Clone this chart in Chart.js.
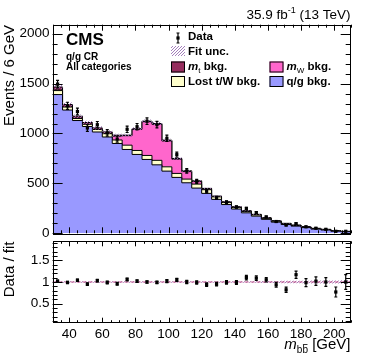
<!DOCTYPE html>
<html>
<head>
<meta charset="utf-8">
<script src="https://cdn.jsdelivr.net/npm/chart.js@4.4.0/dist/chart.umd.min.js"></script>
<style>
  body { margin: 0; background: #fff; width: 374px; height: 359px; overflow: hidden; position: relative; }
  canvas { position: absolute; left: 0; }
  #main { top: 0; }
  #ratio { top: 226px; }
</style>
</head>
<body>
<canvas id="main" width="374" height="250"></canvas>
<canvas id="ratio" width="374" height="133"></canvas>
<script>
// m_bb bins, 6 GeV wide
const binEdges = [30, 36, 42, 48, 54, 60, 66, 72, 78, 84, 90, 96, 102, 108, 114, 120,
  126, 132, 138, 144, 150, 156, 162, 168, 174, 180, 186, 192, 198, 204, 210];

// stacked backgrounds (events / bin), bottom to top
const qgBkg  = [1390, 1235, 1130, 1070, 1015, 965, 900, 840, 790, 740, 686, 623, 560, 506, 453,
  400, 340, 288, 243, 205, 172, 140, 112, 88, 72, 57, 42, 33, 21, 16];
const lostTW = [40, 30, 20, 22, 25, 33, 35, 43, 40, 40, 45, 43, 40, 37, 40,
  37, 25, 20, 16, 14, 12, 10, 9, 8, 6, 5, 4, 3, 2, 2];
const mWBkg  = [6, 0, 3, 0, 0, 3, 38, 95, 212, 338, 361, 259, 143, 75, 25,
  8, 2, 2, 2, 2, 1, 1, 1, 1, 1, 1, 1, 1, 1, 0];
const mtBkg  = [30, 25, 20, 18, 16, 15, 10, 5, 5, 5, 8, 8, 7, 8, 8,
  5, 6, 6, 5, 5, 5, 5, 4, 3, 4, 3, 3, 3, 2, 2];

const dataCounts = [1495, 1277, 1220, 1055, 1088, 1006, 944, 1042, 1068, 1123, 1089, 952, 788, 626, 521,
  423, 354, 313, 263, 249, 207, 164, 118, 82, 97, 65, 51, 40, 20, 20];
const dataErr = [38, 36, 34, 33, 32, 32, 31, 32, 32, 33, 33, 31, 26, 23, 20,
  18, 15, 13, 11, 12, 10, 8, 7, 6, 7, 6, 5, 4, 3, 3.4];
// relative fit uncertainty
const fitUnc = [0.015, 0.015, 0.015, 0.015, 0.015, 0.015, 0.015, 0.015, 0.015, 0.015, 0.015, 0.015, 0.015, 0.015, 0.015,
  0.015, 0.018, 0.018, 0.02, 0.02, 0.02, 0.022, 0.024, 0.026, 0.028, 0.03, 0.032, 0.034, 0.036, 0.038];

const xTickLabels = [40, 60, 80, 100, 120, 140, 160, 180, 200];
const yTickLabels = [0, 500, 1000, 1500, 2000];
const ratioTickLabels = [0.5, 1, 1.5];

const FONT = '"Liberation Sans", Arial, Helvetica, sans-serif';
const C_QG = '#9999ff', C_LOST = '#ffffcc', C_MW = '#ff66cc', C_MT = '#962d5e', HATCH = '#9a70b4';

// cumulative stack
const lay1 = qgBkg.slice();
const lay2 = lay1.map((v, i) => v + lostTW[i]);
const lay3 = lay2.map((v, i) => v + mWBkg[i]);
const total = lay3.map((v, i) => v + mtBkg[i]);
const bandLo = total.map((v, i) => v * (1 - fitUnc[i]));
const bandHi = total.map((v, i) => v * (1 + fitUnc[i]));
const centers = binEdges.slice(0, -1).map((e, i) => (e + binEdges[i + 1]) / 2);
const ratio = dataCounts.map((v, i) => v / total[i]);
const ratioErr = dataErr.map((v, i) => v / total[i]);

function steps(vals) {
  return binEdges.map((e, i) => ({ x: e, y: vals[Math.min(i, vals.length - 1)] }));
}

function hatch() {
  const c = document.createElement('canvas');
  c.width = 3; c.height = 3;
  const g = c.getContext('2d');
  g.strokeStyle = HATCH;
  g.lineWidth = 0.9;
  g.beginPath();
  g.moveTo(0, 3); g.lineTo(3, 0);
  g.moveTo(-1, 1); g.lineTo(1, -1);
  g.moveTo(2, 4); g.lineTo(4, 2);
  g.stroke();
  return g.createPattern(c, 'repeat');
}
const pattern = hatch();

const stepLine = { stepped: true, pointRadius: 0, tension: 0, borderColor: '#000', borderWidth: 1 };
const noLine = { stepped: true, pointRadius: 0, tension: 0, borderColor: 'rgba(0,0,0,0)', borderWidth: 1 };

// frame and inward ticks on all four sides
function frameTicks(xMaj, xMin, yMajStep, yMinStep, yMin, yMax) {
  return {
    id: 'frameTicks',
    afterDraw(chart) {
      const { ctx, chartArea: a, scales: { x, y } } = chart;
      ctx.save();
      ctx.strokeStyle = '#000';
      ctx.lineWidth = 1;
      ctx.beginPath();
      for (let v = 30; v <= 210.001; v += 5) {
        const px = Math.round(x.getPixelForValue(v)) + 0.5;
        const len = v % 20 === 0 ? xMaj : xMin;
        ctx.moveTo(px, a.bottom); ctx.lineTo(px, a.bottom - len);
        ctx.moveTo(px, a.top); ctx.lineTo(px, a.top + len);
      }
      const n = Math.round((yMax - yMin) / yMinStep);
      for (let k = 0; k <= n; k++) {
        const v = yMin + k * yMinStep;
        if (v < y.min || v > y.max) continue;
        const py = Math.round(y.getPixelForValue(v)) + 0.5;
        const r = Math.abs(v / yMajStep - Math.round(v / yMajStep)) < 1e-6;
        const len = r ? 10 : 5;
        ctx.moveTo(a.left, py); ctx.lineTo(a.left + len, py);
        ctx.moveTo(a.right, py); ctx.lineTo(a.right - len, py);
      }
      ctx.stroke();
      ctx.strokeRect(Math.round(a.left) + 0.5, Math.round(a.top) + 0.5,
        Math.round(a.right - a.left) - 1, Math.round(a.bottom - a.top));
      ctx.restore();
    }
  };
}

function errorBars(vals, errs) {
  return {
    id: 'errorBars',
    afterDatasetsDraw(chart) {
      const { ctx, scales: { x, y } } = chart;
      ctx.save();
      ctx.strokeStyle = '#000';
      ctx.fillStyle = '#000';
      ctx.lineWidth = 1.2;
      centers.forEach((c, i) => {
        const px = x.getPixelForValue(c);
        const py = y.getPixelForValue(vals[i]);
        const lo = y.getPixelForValue(vals[i] - errs[i]);
        const hi = y.getPixelForValue(vals[i] + errs[i]);
        ctx.beginPath();
        ctx.moveTo(px, lo); ctx.lineTo(px, hi);
        ctx.moveTo(px - 1.5, lo); ctx.lineTo(px + 1.5, lo);
        ctx.moveTo(px - 1.5, hi); ctx.lineTo(px + 1.5, hi);
        ctx.stroke();
        ctx.fillRect(px - 1.6, py - 1.6, 3.2, 3.2);
      });
      ctx.restore();
    }
  };
}

function rotatedTitle(ctx, text, x, yEnd, size) {
  ctx.save();
  ctx.translate(x, yEnd);
  ctx.rotate(-Math.PI / 2);
  ctx.font = size + 'px ' + FONT;
  ctx.fillStyle = '#000';
  ctx.textAlign = 'right';
  ctx.textBaseline = 'middle';
  ctx.fillText(text, 0, 0);
  ctx.restore();
}

function legendBox(ctx, x, y, fill) {
  ctx.fillStyle = fill;
  ctx.fillRect(x, y, 14, 11);
  ctx.strokeStyle = '#000';
  ctx.lineWidth = 1;
  ctx.strokeRect(x + 0.5, y + 0.5, 13, 10);
}

// text with italic m + subscript
function massLabel(ctx, x, base, sub, rest, size) {
  ctx.font = 'italic bold ' + size + 'px ' + FONT;
  ctx.fillText('m', x, base);
  let w = ctx.measureText('m').width;
  ctx.font = (size * 0.7) + 'px ' + FONT;
  ctx.fillText(sub, x + w, base + 3);
  w += ctx.measureText(sub).width;
  ctx.font = 'bold ' + size + 'px ' + FONT;
  ctx.fillText(rest, x + w, base);
}

const decorations = {
  id: 'decorations',
  afterDraw(chart) {
    const ctx = chart.ctx;
    ctx.save();
    ctx.fillStyle = '#000';
    ctx.textBaseline = 'alphabetic';
    ctx.textAlign = 'left';

    rotatedTitle(ctx, 'Events / 6 GeV', 9.5, 25, 15);

    // luminosity label
    ctx.font = '13.5px ' + FONT;
    const t1 = '35.9 fb', t3 = ' (13 TeV)';
    const w1 = ctx.measureText(t1).width, w3 = ctx.measureText(t3).width;
    ctx.font = '9px ' + FONT;
    const w2 = ctx.measureText('-1').width;
    let x0 = 350.5 - (w1 + w2 + w3);
    ctx.font = '13.5px ' + FONT;
    ctx.fillText(t1, x0, 19);
    ctx.font = '9px ' + FONT;
    ctx.fillText('-1', x0 + w1, 13);
    ctx.font = '13.5px ' + FONT;
    ctx.fillText(t3, x0 + w1 + w2, 19);

    ctx.font = 'bold 17px ' + FONT;
    ctx.fillText('CMS', 66, 45);
    ctx.font = 'bold 10px ' + FONT;
    ctx.fillText('q/g CR', 66, 60);
    ctx.fillText('All categories', 66, 69.5);

    // legend
    ctx.strokeStyle = '#000';
    ctx.lineWidth = 1.2;
    ctx.beginPath();
    ctx.moveTo(178, 33); ctx.lineTo(178, 43);
    ctx.moveTo(176.5, 33); ctx.lineTo(179.5, 33);
    ctx.moveTo(176.5, 43); ctx.lineTo(179.5, 43);
    ctx.stroke();
    ctx.fillRect(176.4, 36.4, 3.2, 3.2);
    ctx.fillStyle = pattern;
    ctx.fillRect(171, 46, 14, 10);
    legendBox(ctx, 171, 61.5, C_MT);
    legendBox(ctx, 171, 76, C_LOST);
    legendBox(ctx, 269.5, 61.5, C_MW);
    legendBox(ctx, 269.5, 76, C_QG);

    ctx.fillStyle = '#000';
    ctx.font = 'bold 11.5px ' + FONT;
    ctx.fillText('Data', 188, 40);
    ctx.fillText('Fit unc.', 188, 55);
    massLabel(ctx, 188, 70, 't', ' bkg.', 11.5);
    ctx.font = 'bold 11.5px ' + FONT;
    ctx.fillText('Lost t/W bkg.', 188, 84.5);
    massLabel(ctx, 286.5, 70, 'W', ' bkg.', 11.5);
    ctx.font = 'bold 11.5px ' + FONT;
    ctx.fillText('q/g bkg.', 286.5, 84.5);
    ctx.restore();
  }
};

new Chart(document.getElementById('main'), {
  type: 'line',
  data: {
    datasets: [
      { ...stepLine, data: steps(lay1), backgroundColor: C_QG, fill: 'origin', order: 2 },
      { ...stepLine, data: steps(lay2), backgroundColor: C_LOST, fill: '-1', order: 3 },
      { ...stepLine, data: steps(lay3), backgroundColor: C_MW, fill: '-1', order: 4 },
      { ...stepLine, data: steps(total), backgroundColor: C_MT, fill: '-1', order: 5 },
      { ...noLine, data: steps(bandLo), fill: false, order: 1 },
      { ...noLine, data: steps(bandHi), backgroundColor: pattern, fill: '-1', order: 1 }
    ]
  },
  options: {
    responsive: false,
    animation: false,
    events: [],
    layout: { padding: { left: 0, right: 23.3, top: 24.7, bottom: 16.7 } },
    plugins: { legend: { display: false }, tooltip: { enabled: false } },
    scales: {
      x: { type: 'linear', min: 30, max: 210, display: false },
      y: {
        min: 0, max: 2090,
        afterFit: s => { s.width = 52.6; },
        afterBuildTicks: s => { s.ticks = yTickLabels.map(v => ({ value: v })); },
        grid: { display: false, drawTicks: false },
        border: { display: false },
        ticks: { padding: 3, color: '#000', autoSkip: false, font: { family: FONT, size: 13.5 }, callback: v => String(v) }
      }
    }
  },
  plugins: [errorBars(dataCounts, dataErr), frameTicks(6, 3, 500, 100, 0, 2100), decorations]
});

const ratioDecor = {
  id: 'ratioDecor',
  afterDraw(chart) {
    const ctx = chart.ctx;
    ctx.save();
    ctx.fillStyle = '#000';
    rotatedTitle(ctx, 'Data / fit', 10, 15.5, 15);
    // x axis title, right aligned to the frame
    const size = 15, subSize = 10;
    ctx.textBaseline = 'alphabetic';
    ctx.font = 'italic ' + size + 'px ' + FONT;
    const wm = ctx.measureText('m').width;
    ctx.font = subSize + 'px ' + FONT;
    const wb = ctx.measureText('b').width;
    ctx.font = size + 'px ' + FONT;
    const wr = ctx.measureText(' [GeV]').width;
    const x0 = 350.5 - (wm + 2 * wb + wr);
    const base = 123;
    ctx.font = 'italic ' + size + 'px ' + FONT;
    ctx.fillText('m', x0, base);
    ctx.font = subSize + 'px ' + FONT;
    ctx.fillText('bb', x0 + wm, base + 4);
    ctx.fillRect(x0 + wm + wb + 0.5, base + 4 - 9, wb - 1, 0.8);
    ctx.font = size + 'px ' + FONT;
    ctx.fillText(' [GeV]', x0 + wm + 2 * wb, base);
    ctx.restore();
  }
};

new Chart(document.getElementById('ratio'), {
  type: 'line',
  data: {
    datasets: [
      { ...noLine, data: steps(fitUnc.map(u => 1 - u)), fill: false, order: 2 },
      { ...noLine, data: steps(fitUnc.map(u => 1 + u)), backgroundColor: pattern, fill: '-1', order: 2 },
      { ...stepLine, data: steps(fitUnc.map(() => 1)), borderColor: '#c0508a', borderDash: [4, 2], fill: false, order: 1 }
    ]
  },
  options: {
    responsive: false,
    animation: false,
    events: [],
    layout: { padding: { left: 0, right: 23.3, top: 15.3, bottom: 0 } },
    plugins: { legend: { display: false }, tooltip: { enabled: false } },
    scales: {
      x: {
        type: 'linear', min: 30, max: 210,
        afterFit: s => { s.height = 36.3; },
        afterBuildTicks: s => { s.ticks = xTickLabels.map(v => ({ value: v })); },
        grid: { display: false, drawTicks: false },
        border: { display: false },
        ticks: { padding: 3, maxRotation: 0, color: '#000', autoSkip: false, font: { family: FONT, size: 13.5 }, callback: v => String(v) }
      },
      y: {
        min: 0.06, max: 1.94,
        afterFit: s => { s.width = 52.6; },
        afterBuildTicks: s => { s.ticks = ratioTickLabels.map(v => ({ value: v })); },
        grid: { display: false, drawTicks: false },
        border: { display: false },
        ticks: { padding: 3, color: '#000', autoSkip: false, font: { family: FONT, size: 13.5 }, callback: v => String(v) }
      }
    }
  },
  plugins: [errorBars(ratio, ratioErr), frameTicks(5, 2.5, 0.5, 0.1, 0, 2), ratioDecor]
});
</script>
</body>
</html>
